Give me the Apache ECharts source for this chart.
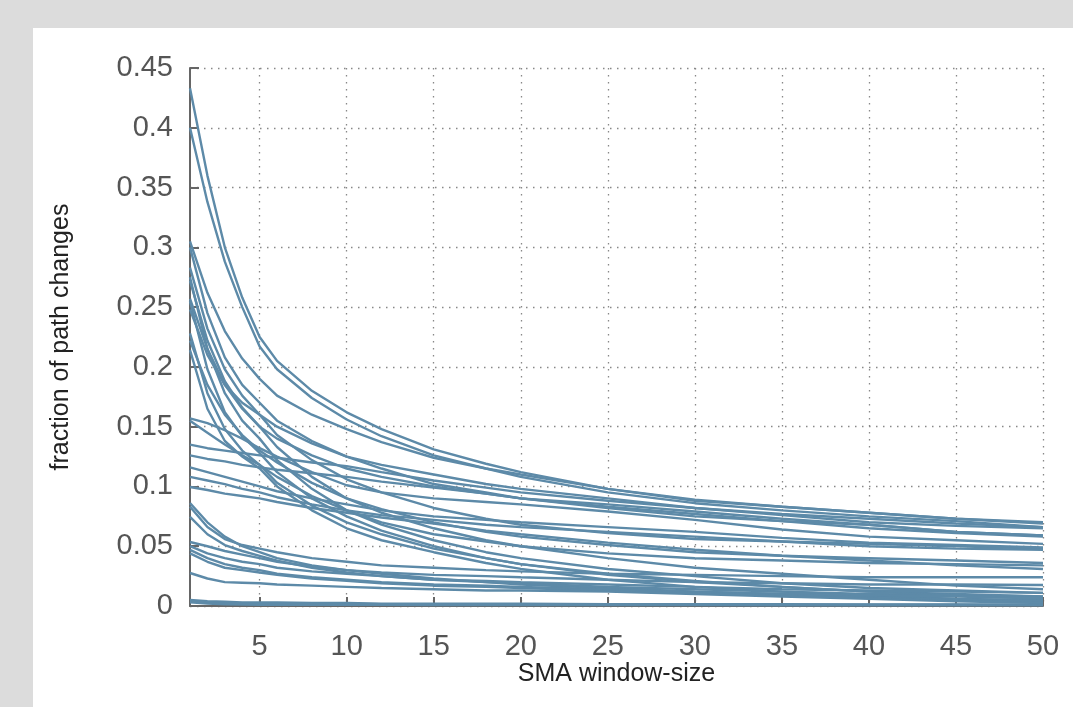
<!DOCTYPE html>
<html>
<head>
<meta charset="utf-8">
<script src="https://cdn.jsdelivr.net/npm/echarts@6/dist/echarts.min.js"></script>
<style>
html,body{margin:0;padding:0;width:1073px;height:707px;background:#dcdcdc;overflow:hidden;}
#c{position:absolute;left:33px;top:28px;width:1040px;height:679px;background:#fff;}
</style>
</head>
<body>
<div id="c"></div>
<script>
// window sizes at which values were read
const windowSizes = [1,2,3,4,5,6,8,10,12,15,18,20,25,30,35,40,45,50];
const xTickLabels = [5,10,15,20,25,30,35,40,45,50];

const s01 = [0.433,0.360,0.300,0.258,0.225,0.205,0.180,0.162,0.148,0.131,0.119,0.112,0.098,0.089,0.083,0.078,0.073,0.070];
const s02 = [0.400,0.338,0.288,0.250,0.217,0.198,0.174,0.156,0.142,0.126,0.115,0.108,0.095,0.086,0.080,0.075,0.071,0.066];
const s03 = [0.305,0.262,0.230,0.207,0.190,0.176,0.160,0.148,0.137,0.124,0.115,0.110,0.098,0.088,0.083,0.078,0.073,0.069];
const s04 = [0.300,0.245,0.208,0.185,0.170,0.155,0.138,0.125,0.115,0.102,0.095,0.090,0.083,0.077,0.071,0.065,0.061,0.058];
const s05 = [0.283,0.232,0.198,0.176,0.160,0.143,0.122,0.106,0.095,0.082,0.073,0.068,0.061,0.056,0.054,0.052,0.050,0.048];
const s06 = [0.275,0.215,0.178,0.155,0.140,0.122,0.098,0.080,0.068,0.055,0.045,0.040,0.031,0.025,0.019,0.015,0.013,0.011];
const s07 = [0.272,0.222,0.188,0.166,0.150,0.133,0.108,0.090,0.078,0.065,0.055,0.050,0.040,0.032,0.027,0.022,0.017,0.014];
const s08 = [0.257,0.215,0.185,0.165,0.150,0.140,0.126,0.115,0.108,0.100,0.094,0.090,0.082,0.075,0.071,0.068,0.062,0.059];
const s09 = [0.255,0.198,0.162,0.142,0.128,0.112,0.090,0.075,0.063,0.050,0.040,0.035,0.026,0.020,0.016,0.012,0.010,0.008];
const s10 = [0.248,0.210,0.185,0.170,0.160,0.150,0.136,0.125,0.118,0.110,0.102,0.098,0.090,0.082,0.077,0.073,0.069,0.066];
const s11 = [0.228,0.178,0.148,0.130,0.118,0.103,0.084,0.070,0.060,0.048,0.040,0.035,0.027,0.021,0.016,0.012,0.009,0.006];
const s12 = [0.222,0.185,0.160,0.143,0.130,0.120,0.103,0.090,0.081,0.070,0.062,0.058,0.051,0.045,0.042,0.040,0.038,0.036];
const s13 = [0.214,0.165,0.138,0.125,0.115,0.100,0.080,0.065,0.055,0.045,0.036,0.031,0.022,0.016,0.012,0.009,0.006,0.004];
const s14 = [0.157,0.153,0.147,0.140,0.132,0.125,0.112,0.101,0.095,0.090,0.087,0.085,0.079,0.072,0.064,0.058,0.055,0.052];
const s15 = [0.155,0.145,0.135,0.126,0.118,0.108,0.092,0.080,0.070,0.060,0.054,0.050,0.044,0.040,0.038,0.036,0.035,0.034];
const s16 = [0.135,0.132,0.130,0.128,0.126,0.124,0.120,0.117,0.112,0.105,0.099,0.095,0.088,0.082,0.076,0.070,0.067,0.065];
const s17 = [0.126,0.123,0.121,0.118,0.116,0.114,0.111,0.108,0.104,0.099,0.094,0.090,0.085,0.079,0.073,0.068,0.062,0.059];
const s18 = [0.116,0.112,0.108,0.104,0.100,0.096,0.090,0.085,0.080,0.075,0.072,0.070,0.066,0.062,0.057,0.053,0.051,0.049];
const s19 = [0.108,0.105,0.102,0.098,0.095,0.091,0.085,0.080,0.076,0.072,0.068,0.066,0.062,0.058,0.054,0.050,0.048,0.047];
const s20 = [0.0995,0.097,0.094,0.092,0.090,0.087,0.082,0.078,0.074,0.069,0.063,0.060,0.053,0.047,0.042,0.038,0.034,0.031];
const s21 = [0.086,0.070,0.058,0.050,0.045,0.040,0.034,0.030,0.027,0.023,0.020,0.018,0.015,0.012,0.010,0.008,0.006,0.005];
const s22 = [0.083,0.066,0.056,0.051,0.048,0.045,0.040,0.037,0.034,0.032,0.030,0.029,0.027,0.026,0.025,0.024,0.024,0.024];
const s23 = [0.0745,0.060,0.051,0.046,0.042,0.038,0.032,0.028,0.025,0.022,0.020,0.019,0.016,0.014,0.012,0.010,0.009,0.008];
const s24 = [0.0535,0.050,0.046,0.043,0.040,0.037,0.033,0.030,0.028,0.026,0.025,0.024,0.022,0.020,0.019,0.018,0.018,0.0176];
const s25 = [0.050,0.044,0.040,0.037,0.035,0.032,0.029,0.027,0.025,0.022,0.021,0.020,0.018,0.016,0.014,0.013,0.012,0.011];
const s26 = [0.047,0.040,0.035,0.032,0.030,0.027,0.024,0.022,0.020,0.018,0.017,0.016,0.014,0.012,0.010,0.009,0.008,0.0065];
const s27 = [0.044,0.037,0.032,0.030,0.028,0.026,0.023,0.021,0.019,0.017,0.016,0.015,0.013,0.011,0.009,0.007,0.005,0.004];
const s28 = [0.0276,0.023,0.020,0.0195,0.019,0.018,0.017,0.016,0.015,0.014,0.013,0.013,0.012,0.010,0.008,0.006,0.004,0.0025];
const s29 = [0.005,0.004,0.0035,0.003,0.003,0.003,0.0025,0.0025,0.002,0.002,0.002,0.002,0.0015,0.0015,0.0015,0.0012,0.0012,0.001];
const s30 = [0.004,0.003,0.0025,0.002,0.002,0.002,0.0018,0.0017,0.0016,0.0015,0.0014,0.0013,0.0012,0.0011,0.001,0.001,0.001,0.001];
const s31 = [0.003,0.002,0.0015,0.0012,0.001,0.001,0.001,0.0009,0.0009,0.0008,0.0008,0.0008,0.0007,0.0007,0.0006,0.0006,0.0006,0.0005];

const allSeries = [s01,s02,s03,s04,s05,s06,s07,s08,s09,s10,s11,s12,s13,s14,s15,s16,s17,s18,s19,s20,s21,s22,s23,s24,s25,s26,s27,s28,s29,s30,s31];

const LINE_COLOR = '#5d8aa8';
const FONT = '"Liberation Sans", Arial, Helvetica, sans-serif';

const chart = echarts.init(document.getElementById('c'), null, {renderer: 'canvas'});
chart.setOption({
  animation: false,
  backgroundColor: '#ffffff',
  grid: {left: 157, top: 40, right: 30, bottom: 101, containLabel: false},
  xAxis: {
    type: 'value', min: 1, max: 50,
    name: 'SMA window-size', nameLocation: 'middle', nameGap: 56, nameMoveOverlap: false,
    nameTextStyle: {fontFamily: FONT, fontSize: 25, color: '#222'},
    axisLine: {show: true, lineStyle: {color: '#666', width: 2}},
    axisTick: {show: true, inside: true, length: 9, customValues: xTickLabels, lineStyle: {color: '#666', width: 2}},
    axisLabel: {customValues: xTickLabels, margin: 26, fontFamily: FONT, fontSize: 29, color: '#555'},
    splitLine: {show: true, customValues: xTickLabels, lineStyle: {color: '#888', width: 1.3, type: [1.5, 5.5]}}
  },
  yAxis: {
    type: 'value', min: 0, max: 0.45, interval: 0.05,
    name: 'fraction of path changes', nameLocation: 'middle', nameGap: 116, nameMoveOverlap: false,
    nameTextStyle: {fontFamily: FONT, fontSize: 25, color: '#222'},
    axisLine: {show: true, lineStyle: {color: '#666', width: 2}},
    axisTick: {show: true, inside: true, length: 9, lineStyle: {color: '#666', width: 2}},
    axisLabel: {margin: 17, fontFamily: FONT, fontSize: 29, color: '#555',
      formatter: v => String(Math.round(v * 100) / 100)},
    splitLine: {show: true, lineStyle: {color: '#888', width: 1.3, type: [1.5, 5.5]}}
  },
  series: allSeries.map((vals, i) => ({
    type: 'line',
    name: 'run' + (i + 1),
    data: vals.map((v, j) => [windowSizes[j], v]),
    showSymbol: false,
    symbol: 'none',
    lineStyle: {color: LINE_COLOR, width: 2.4},
    z: 3
  }))
});
</script>
</body>
</html>
